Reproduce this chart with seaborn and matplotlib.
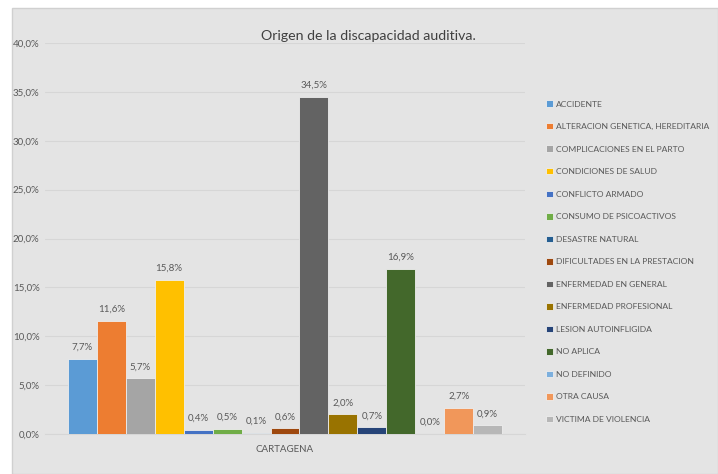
import matplotlib
matplotlib.use('Agg')
import matplotlib.pyplot as plt
from matplotlib.patches import Rectangle
import seaborn as sns
import pandas as pd

# data
causas = [
    "ACCIDENTE",
    "ALTERACION GENETICA, HEREDITARIA",
    "COMPLICACIONES EN EL PARTO",
    "CONDICIONES DE SALUD",
    "CONFLICTO ARMADO",
    "CONSUMO DE PSICOACTIVOS",
    "DESASTRE NATURAL",
    "DIFICULTADES EN LA PRESTACION",
    "ENFERMEDAD EN GENERAL",
    "ENFERMEDAD PROFESIONAL",
    "LESION AUTOINFLIGIDA",
    "NO APLICA",
    "NO DEFINIDO",
    "OTRA CAUSA",
    "VICTIMA DE VIOLENCIA",
]
porcentajes = [7.7, 11.6, 5.7, 15.8, 0.4, 0.5, 0.1, 0.6, 34.5, 2.0, 0.7, 16.9, 0.0, 2.7, 0.9]
ciudad = "CARTAGENA"
colores = ["#5B9BD5", "#ED7D31", "#A5A5A5", "#FFC000", "#4472C4", "#70AD47", "#255E91",
           "#9E480E", "#636363", "#997300", "#264478", "#43682B", "#7CAFDD", "#F1975A", "#B7B7B7"]

df = pd.DataFrame({"ciudad": [ciudad] * len(causas), "causa": causas, "pct": porcentajes})

sns.set_theme(style="white")
plt.rcParams['font.family'] = ['Lato', 'DejaVu Sans']

bg = "#e4e4e4"
txt = "#595959"

fig = plt.figure(figsize=(7.18, 4.74), dpi=100, facecolor="white")
fig.patches.append(Rectangle((12 / 718, 0), 1 - 12 / 718, 1 - 8 / 474, transform=fig.transFigure,
                             facecolor=bg, edgecolor="#d0d0d0", linewidth=1, zorder=-5))

ax = fig.add_axes([45 / 718, 1 - 434 / 474, 480 / 718, 391 / 474])
ax.set_facecolor("none")

sns.barplot(data=df, x="ciudad", y="pct", hue="causa", hue_order=causas, palette=colores,
            saturation=1, width=0.905, ax=ax, edgecolor="#eeeeee", linewidth=0.6,
            legend=True, zorder=3)

for cont in ax.containers:
    etiquetas = [f"{v:.1f}%".replace(".", ",") for v in cont.datavalues]
    ax.bar_label(cont, labels=etiquetas, padding=5, fontsize=7, color=txt)

ax.set_ylim(0, 40)
ax.set_xlim(-0.5, 0.5)
ax.set_yticks(range(0, 41, 5))
ax.set_yticklabels([f"{t:.1f}%".replace(".", ",") for t in range(0, 41, 5)], fontsize=7, color=txt)
ax.tick_params(axis="x", labelsize=7, colors=txt, length=0, pad=8)
ax.tick_params(axis="y", length=0, pad=4)
ax.yaxis.grid(True, color="#d6d6d6", linewidth=0.8, zorder=0)
ax.set_axisbelow(True)
ax.set_xlabel("")
ax.set_ylabel("")
for s in ["top", "right", "left"]:
    ax.spines[s].set_visible(False)
ax.spines["bottom"].set_color("#d6d6d6")
ax.spines["bottom"].set_linewidth(0.8)

fig.text(368 / 718, 1 - 36 / 474, "Origen de la discapacidad auditiva.", ha="center", va="center",
         fontsize=10.2, color="#404040")

handles, labels = ax.get_legend_handles_labels()
ax.legend_.remove()
leg = fig.legend(handles, labels, loc="upper left", bbox_to_anchor=(543 / 718, 1 - 97 / 474),
                 frameon=False, fontsize=6.1, labelcolor=txt, handlelength=0.8, handleheight=0.8,
                 handletextpad=0.35, labelspacing=1.81, borderaxespad=0)

plt.savefig("out.png", dpi=100, facecolor=fig.get_facecolor())
plt.close()
